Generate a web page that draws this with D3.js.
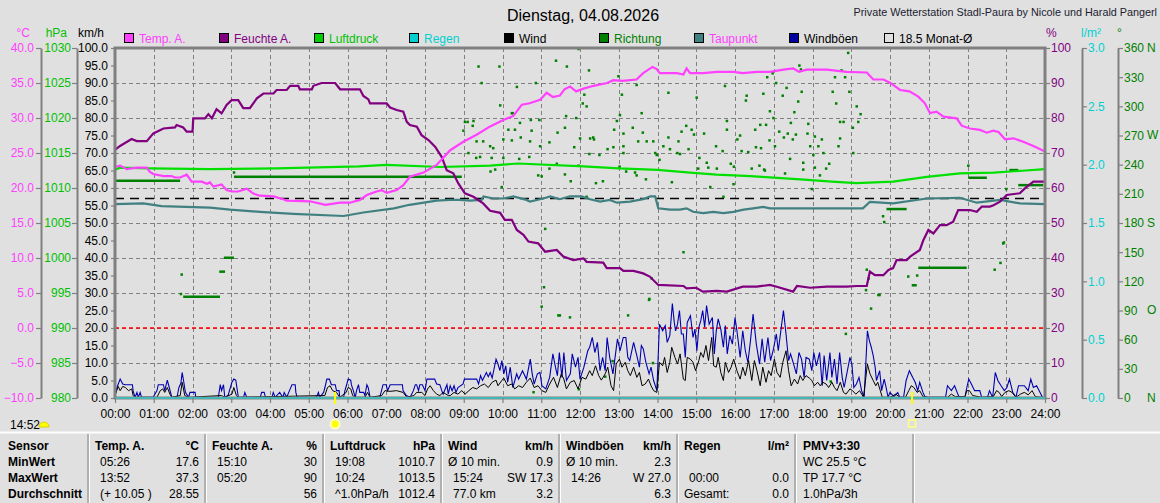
<!DOCTYPE html>
<html>
<head>
<meta charset="utf-8">
<script src="https://cdn.jsdelivr.net/npm/d3@7"></script>
<style>
  body { margin: 0; background: #e0e0e0; }
  svg { display: block; font-family: "Liberation Sans", Arial, sans-serif; font-size: 12px; }
</style>
</head>
<body>
<div id="chart"></div>
<script>
// ---- data ----
// [hour, value]
var tempPts = [[0,23.0],[0.13,23.2],[0.3,22.7],[0.56,22.9],[0.82,22.9],[0.9,22.3],[0.99,22.0],[1.25,21.7],[1.46,21.7],[1.55,21.5],[1.68,21.5],[1.85,21.9],[1.98,20.9],[2.24,20.9],[2.37,20.6],[2.45,20.8],[2.54,20.2],[2.75,20.5],[2.88,19.7],[3.01,19.5],[3.18,19.5],[3.4,19.9],[3.57,19.2],[3.74,18.9],[4.09,18.8],[4.34,18.4],[4.43,18.2],[5.03,18.1],[5.43,17.6],[5.81,17.9],[6.06,17.9],[6.32,18.3],[6.5,19.0],[6.75,19.5],[6.88,19.7],[7.01,19.3],[7.27,19.7],[7.44,20.4],[7.61,21.6],[7.96,22.2],[8.3,23.3],[8.65,25.4],[8.99,26.6],[9.33,27.6],[9.68,28.8],[10.02,29.7],[10.28,30.3],[10.5,31.9],[10.7,32.1],[10.97,32.6],[11.14,33.6],[11.3,33.0],[11.48,33.2],[11.6,34.1],[11.74,34.5],[11.9,33.8],[12.09,34.2],[12.35,34.6],[12.7,35.0],[12.86,35.4],[13.1,35.3],[13.46,35.5],[13.63,36.4],[13.87,37.3],[13.98,37.0],[14.06,36.4],[14.5,36.4],[14.67,36.2],[14.75,37.1],[14.84,36.4],[15.18,36.4],[15.53,36.6],[15.96,36.6],[16.2,36.4],[16.56,36.6],[16.9,36.6],[17.25,36.9],[17.5,37.1],[17.65,36.6],[17.85,36.9],[18.37,36.9],[18.88,36.6],[19.4,36.5],[19.57,35.5],[19.83,35.5],[20.0,35.05],[20.26,34.0],[20.5,33.8],[20.73,33.05],[20.9,32.1],[21.03,30.7],[21.2,30.9],[21.38,30.2],[21.72,29.95],[21.85,28.9],[22.06,28.5],[22.32,28.3],[22.5,27.9],[22.66,28.2],[22.8,28.0],[22.97,26.95],[23.18,27.1],[23.44,26.6],[23.7,26.0],[24,25.2]];

var humPts = [[0,70.9],[0.13,72],[0.43,74],[0.56,73.4],[0.82,73.4],[0.99,75.6],[1.25,77.0],[1.55,77.3],[1.59,78],[1.76,77.3],[1.85,76.1],[2.0,76.1],[2.02,79.9],[2.32,79.9],[2.41,81.1],[2.5,79.9],[2.62,82.5],[2.75,81.3],[2.88,83.7],[3.01,85.1],[3.18,85.1],[3.31,82.8],[3.48,82.8],[3.66,85.6],[3.83,87.0],[4.09,87.0],[4.17,88],[4.43,88],[4.52,89.2],[4.73,89.2],[4.77,88.2],[5.08,88.2],[5.12,89.2],[5.33,90],[5.68,90],[5.81,88.2],[6.32,88.2],[6.41,86.3],[6.54,85.3],[6.58,84.2],[7.01,84.2],[7.1,83.0],[7.27,82.3],[7.44,81.8],[7.53,78.9],[7.61,78.0],[7.79,77.5],[7.91,75.1],[8.09,73.7],[8.26,71.8],[8.43,68.9],[8.56,65.1],[8.73,64.2],[8.86,61.3],[9.03,58.5],[9.25,57.5],[9.5,55.6],[9.68,53.5],[9.94,52.9],[10.06,50.9],[10.24,50.9],[10.37,48],[10.54,46.6],[10.67,44.7],[10.92,44.2],[11.1,41.8],[11.4,42.3],[11.57,40.4],[11.83,39.4],[12.09,39.9],[12.17,38.9],[12.6,38.7],[12.69,37.1],[13.03,37.1],[13.12,36.3],[13.38,36.3],[13.63,35.6],[13.8,34.7],[14.02,32.3],[14.67,32],[14.75,31.3],[15.0,31.5],[15.17,30.4],[15.53,30.6],[15.79,30.4],[16.2,31.8],[16.56,31.8],[16.9,32.3],[17.08,31.8],[17.5,30.4],[17.6,32],[17.94,31.5],[18.37,31.8],[18.88,31.8],[19.14,32],[19.4,32],[19.48,36.1],[19.61,35.1],[19.83,35.1],[19.96,36.6],[20.08,37.1],[20.17,39.4],[20.43,39.4],[20.52,40.4],[20.77,42.3],[20.86,45.1],[20.99,48],[21.12,47.0],[21.29,49.4],[21.46,49.4],[21.63,50.4],[21.76,53.7],[22.06,53.7],[22.24,53.2],[22.37,54.7],[22.58,54.7],[22.67,55.1],[22.84,56.1],[23.01,58],[23.35,58.5],[23.48,59.9],[23.7,61.8],[24,61.8]];

var presPts = [[0,1012.6],[0.13,1012.9],[0.9,1012.8],[2.45,1012.7],[4.17,1012.8],[6.3,1013.1],[7.0,1013.3],[8.4,1013.0],[9.68,1013.2],[10.4,1013.5],[12.09,1013.1],[13.0,1012.8],[14.0,1012.6],[14.84,1012.2],[15.53,1011.9],[16.4,1011.7],[16.7,1011.6],[17.78,1011.2],[18.5,1010.9],[19.14,1010.7],[20.08,1010.9],[20.95,1011.6],[21.8,1012.1],[22.67,1012.2],[23.5,1012.5],[24,1012.7]];

var dewPts = [[0,17.7],[0.73,17.8],[1.2,17.4],[2.45,17.2],[2.97,16.9],[3.74,16.6],[4.6,16.3],[5.9,16.0],[6.41,16.5],[7.2,17.1],[7.6,17.6],[8.3,18.2],[8.645,18.3],[8.9,18.3],[9.16,18.2],[9.46,18.3],[9.51,18.8],[9.76,18.5],[10.02,18.5],[10.28,18.8],[10.62,18.3],[10.71,18.05],[11.05,18.5],[11.23,18.8],[11.48,18.4],[11.74,18.8],[12.04,18.8],[12.26,18.4],[12.52,18.05],[12.77,18.3],[12.95,17.9],[13.29,18.05],[13.63,18.4],[13.81,18.8],[13.94,18.8],[14.02,17.1],[14.32,16.9],[14.58,16.9],[14.75,17.1],[14.92,16.6],[15.18,16.4],[15.44,16.6],[15.7,16.4],[15.96,16.6],[16.22,16.9],[16.47,17.1],[16.73,17.3],[16.9,17.1],[18.37,17.1],[19.3,17.1],[19.48,18.0],[20.08,17.8],[20.95,18.5],[21.8,18.6],[22.24,17.9],[22.84,18.3],[23.35,17.8],[24,17.7]];

var rainPts = [[0,0],[24,0]];
var monthAvg = 18.5;

// [minute of day, km/h]
var gustMin = [[0,0.7],[3,3.0],[8,5.4],[12,4.0],[16,3.8],[27,3.8],[28,2.1],[31,0.2],[34,1.6],[36,0.2],[39,1.6],[41,0.2],[59,0.2],[65,2.1],[67,3.8],[75,3.8],[77,2.1],[81,5.1],[84,3.0],[88,0.2],[96,0.2],[99,3.0],[102,4.2],[104,7.3],[107,4.0],[109,1.6],[114,0.2],[116,1.6],[124,1.6],[125,0.2],[160,0.2],[163,3.8],[165,2.1],[168,3.8],[170,0.2],[175,0.7],[181,4.5],[184,5.4],[187,5.1],[191,0.2],[199,0.2],[201,1.6],[204,0.2],[225,0.2],[227,1.6],[231,1.6],[233,0.2],[243,0.2],[245,1.6],[248,0.2],[255,1.6],[260,0.2],[262,1.6],[266,0.2],[269,1.6],[274,3.8],[279,3.8],[280,1.6],[282,0.2],[312,0.2],[315,1.6],[317,0.2],[323,1.6],[325,3.0],[328,5.4],[332,5.4],[335,3.8],[341,3.8],[343,2.1],[347,2.1],[348,0.2],[354,0.2],[356,2.1],[359,4.0],[361,5.4],[365,5.1],[366,3.8],[369,2.1],[372,0.2],[374,2.1],[377,3.8],[379,1.6],[385,1.6],[387,0.7],[390,3.8],[392,3.0],[395,0.2],[410,0.2],[415,3.8],[420,3.8],[422,2.1],[426,3.8],[445,3.8],[446,2.1],[451,0.7],[457,0.2],[462,2.1],[465,3.8],[467,3.8],[470,2.1],[472,3.8],[476,3.8],[480,2.1],[483,5.4],[495,5.4],[498,4.0],[503,3.8],[506,2.1],[508,1.1],[514,3.8],[516,1.1],
[519,3.5],[522,2.1],[525,3.5],[528,1.6],[531,3.0],[539,4.0],[541,5.4],[560,5.4],[563,4.0],[566,6.4],[569,5.0],[575,7.3],[578,6.1],[581,7.3],[584,5.7],[590,11.1],[593,9.7],[596,7.8],[599,10.7],[602,6.9],[605,9.2],[608,4.5],[612,8.8],[616,3.0],[622,6.9],[625,5.4],[631,7.8],[637,5.4],[643,11.1],[646,6.9],[649,4.0],[654,6.9],[658,7.3],[661,3.5],[667,2.6],[673,5.9],[678,12.6],[682,8.8],[685,6.4],[688,13.0],[692,5.9],[695,13.0],[699,5.0],[705,6.9],[708,12.6],[713,8.8],[717,11.6],[720,5.4],[726,8.8],[732,13.5],[735,14.5],[739,17.3],[743,13.0],[747,15.9],[751,7.8],[755,11.6],[759,7.8],[762,17.3],[766,11.6],[771,6.9],[775,12.6],[778,16.9],[782,13.5],[787,17.3],[791,17.3],[794,11.6],[797,10.7],[803,15.9],[808,12.1],[812,8.8],[815,15.0],[818,14.0],[822,10.2],[827,6.9],[830,8.8],[834,5.0],[839,2.1],[843,21.1],[848,19.2],[852,20.7],[855,15.9],[859,17.8],[863,27.0],[866,21.6],[868,19.2],[871,21.1],[874,25.0],[877,18.3],[880,18.3],[883,11.6],[886,21.6],[891,23.5],[895,17.3],[898,19.7],[901,13.5],[904,20.2],[907,22.1],[910,25.0],[913,20.2],[916,26.4],[920,21.1],[925,23.0],[928,12.6],[931,19.2],[934,22.6],[938,19.7],[942,14.5],[945,20.7],[948,12.6],[952,17.8],[956,15.4],[960,23.0],[963,19.2],[968,11.6],[972,19.2],[976,13.5],[980,10.2],[984,16.4],[988,24.0],[993,15.4],[998,9.7],[1002,16.9],[1006,10.2],[1011,17.3],[1015,10.7],[1019,13.5],[1024,18.3],[1027,13.5],[1031,19.2],[1035,25.0],[1039,18.3],[1043,10.7],[1046,12.6],[1050,10.2],[1055,6.9],[1059,13.0],[1063,11.1],[1067,5.9],[1070,11.6],[1075,11.1],[1079,7.8],[1082,13.0],[1086,9.2],[1091,13.0],[1095,3.5],[1098,12.1],[1102,5.0],[1107,13.0],[1110,5.9],[1114,11.1],[1118,4.0],[1122,13.0],[1126,5.9],[1129,3.0],[1138,11.6],[1141,9.7],[1144,3.0],[1148,4.0],[1152,5.9],[1156,2.1],[1160,0.2],[1165,19.2],[1168,16.4],[1171,14.5],[1174,12.1],[1177,8.8],[1179,5.0],[1184,7.8],[1187,2.1],[1191,5.4],[1194,3.0],[1197,0.2],[1200,1.6],[1206,0.4],[1212,1.6],[1215,0.2],[1221,0.2],[1225,5.0],[1230,7.8],[1235,5.9],[1239,4.5],[1243,2.1],[1246,4.5],[1251,1.6],[1254,0.4],[1258,0.2],[1286,0.2],[1289,3.5],[1295,2.1],[1300,3.5],[1304,1.6],[1307,0.2],[1316,0.2],[1319,3.0],[1322,5.4],[1326,4.0],[1331,2.1],[1339,2.1],[1342,0.2],[1351,0.2],[1354,2.1],[1359,0.2],[1363,7.3],[1367,5.0],[1372,3.5],[1377,2.1],[1381,3.0],[1385,5.4],[1390,1.6],[1395,0.2],[1399,3.5],[1403,3.5],[1408,3.5],[1414,2.1],[1418,5.4],[1422,3.0],[1427,3.5],[1431,2.1],[1436,0.2],[1440,0]];

var windMin = [[0,0.7],[5,3.3],[8,2.1],[12,3.3],[16,3.0],[21,2.1],[26,2.6],[28,0.7],[31,0.2],[65,0.2],[70,2.1],[74,2.6],[77,1.6],[81,3.0],[85,1.1],[88,0.2],[101,0.7],[104,4.5],[108,0.7],[114,0.2],[165,0.7],[170,0.2],[181,1.1],[184,3.0],[188,0.7],[191,0.2],[325,0.7],[329,3.0],[333,3.5],[337,2.1],[343,1.6],[348,0.2],[358,1.6],[361,3.0],[365,2.6],[368,0.7],[372,0.2],[387,0.2],[391,1.6],[395,0.2],[413,0.7],[418,2.1],[426,1.9],[436,2.1],[446,1.6],[452,0.2],[463,0.7],[467,1.6],[475,1.6],[480,0.7],[484,2.6],[488,3.5],[493,2.1],[498,1.1],[503,0.7],[508,1.6],[516,0.7],
[519,0.7],[525,1.6],[531,1.1],[537,2.1],[542,1.1],[548,2.1],[554,3.0],[560,2.6],[566,3.5],[572,4.0],[578,3.0],[584,4.5],[590,5.1],[593,3.5],[599,5.0],[602,5.7],[608,3.5],[614,4.0],[619,2.6],[625,3.5],[631,3.0],[637,4.5],[643,5.7],[649,3.0],[655,3.5],[661,2.1],[667,1.6],[673,4.0],[679,5.9],[685,3.0],[691,6.9],[695,5.4],[699,2.6],[705,4.5],[711,5.0],[717,2.6],[723,5.9],[729,5.4],[735,7.8],[739,6.4],[744,9.2],[749,6.4],[753,5.1],[759,6.9],[763,8.8],[768,3.5],[772,2.1],[776,9.7],[781,11.1],[785,8.8],[790,10.2],[794,7.8],[798,6.4],[803,8.8],[808,5.9],[812,7.3],[816,3.5],[821,4.0],[826,5.4],[830,3.5],[834,2.1],[839,1.6],[843,10.2],[848,9.2],[851,11.6],[855,7.3],[859,10.2],[862,14.5],[867,11.6],[871,9.7],[875,12.6],[880,5.4],[883,5.0],[886,11.6],[891,11.1],[895,10.2],[899,7.8],[904,10.7],[907,13.0],[911,11.6],[915,15.0],[919,10.7],[924,17.3],[927,9.2],[931,8.8],[934,11.6],[938,7.3],[942,5.0],[945,10.2],[950,7.3],[954,8.8],[958,11.1],[963,7.8],[968,5.4],[972,8.8],[976,6.4],[981,10.7],[986,5.0],[990,10.7],[994,7.8],[999,3.5],[1003,8.8],[1008,4.5],[1012,7.8],[1016,6.4],[1021,11.1],[1025,7.3],[1030,5.9],[1034,10.2],[1039,13.5],[1043,7.8],[1047,3.5],[1052,5.4],[1057,4.0],[1061,6.4],[1065,5.0],[1070,6.4],[1075,5.7],[1079,5.0],[1083,3.5],[1088,4.5],[1092,3.5],[1096,4.5],[1101,4.0],[1105,3.0],[1110,4.5],[1114,3.0],[1118,2.1],[1123,4.5],[1128,1.6],[1132,1.1],[1138,2.6],[1142,2.1],[1147,1.1],[1153,2.1],[1159,0.2],[1165,9.7],[1169,6.9],[1174,5.0],[1178,3.5],[1181,4.5],[1185,2.1],[1188,0.2],[1200,0.2],[1209,1.1],[1215,0.2],[1224,0.2],[1229,2.1],[1233,3.5],[1237,3.0],[1242,1.6],[1246,2.1],[1251,0.4],[1256,0.2],[1289,0.2],[1295,1.1],[1301,0.4],[1316,0.4],[1319,2.1],[1323,2.1],[1328,0.7],[1342,0.2],[1360,0.4],[1365,2.1],[1369,1.6],[1373,0.4],[1378,1.6],[1384,2.1],[1389,1.6],[1395,0.2],[1402,1.1],[1408,1.6],[1414,0.9],[1420,2.1],[1425,0.4],[1434,0.2],[1440,0]];

// wind direction: [hour, degrees]; held direction while calm: [from, to, degrees]
var dirDots = [[1.70,107],[1.72,127],[3.07,232],
[9.38,341],[9.92,341],[11.38,347],[11.66,341],[12.23,337],[9.46,324],[10.37,320],[10.86,324],[12.99,331],[9.94,301],[10.26,293],[12.11,312],[12.07,303],[12.17,300],[13.08,312],[13.59,293],[13.46,322],[14.28,314],[15.01,309],[15.74,321],[16.30,311],[16.28,306],[16.90,295],
[9.03,284],[9.10,284],[9.25,285],[10.24,293],[10.45,283],[10.73,286],[10.95,286],[11.64,290],[11.90,288],[12.95,285],[13.03,291],
[8.99,275],[9.23,280],[10.15,276],[10.32,276],[10.75,275],[11.42,273],[11.61,278],[12.26,267],[12.34,268],[12.88,276],[13.12,272],[13.36,278],[13.62,273],[13.89,264],[14.28,268],[14.62,274],[14.74,280],[14.88,276],[14.94,271],[15.20,272],[15.79,285],[15.79,276],[16.06,266],[16.13,270],[16.52,276],[16.65,281],[16.80,281],
[9.33,264],[9.50,264],[9.68,259],[9.76,257],[10.02,266],[10.24,265],[10.47,268],[10.71,264],[10.97,259],[11.21,263],[11.85,258],[12.00,267],[12.36,266],[12.71,256],[12.86,258],[13.12,259],[13.50,264],[13.72,264],[13.94,252],[14.15,259],[14.32,256],[14.54,264],[14.80,256],[15.08,247],[15.27,242],[15.51,259],[15.68,254],[15.89,241],[16.17,254],[16.34,253],[16.54,258],[16.67,257],
[9.12,252],[9.32,247],[9.42,248],[9.72,247],[10.02,247],[10.43,246],[10.69,248],[10.92,229],[11.21,236],[11.40,241],[11.96,239],[12.24,251],[12.50,250],[13.02,238],[13.12,252],[13.46,229],[13.98,250],[14.05,245],[14.51,252],[14.58,251],[15.05,236],[15.31,237],[15.53,236],[15.97,238],[16.43,236],[16.63,239],[16.75,235],
[9.69,233],[9.81,235],[9.98,217],[11.01,228],[11.61,230],[11.76,223],[12.17,207],[12.41,221],[12.59,223],[13.19,233],[13.42,232],[13.70,225],[14.37,222],[15.36,217],[15.96,220],[15.70,207],
[11.10,174],[11.07,114],[14.67,150],[13.79,102],[13.85,123],[11.96,359],
[17.66,342],[17.70,338],[16.97,334],[17.06,324],[16.83,330],[18.92,355],[18.75,337],[16.73,313],[17.23,311],[17.33,319],[17.72,315],[18.52,315],[18.95,315],[18.58,330],[18.84,330],[17.63,305],[18.61,303],[19.14,300],[17.53,294],[16.99,288],[17.44,283],[17.89,282],[18.71,284],[18.80,284],[19.18,284],[19.24,292],[19.04,278],[16.89,265],[17.14,274],[17.26,268],[17.36,272],[17.49,266],[17.57,271],[17.87,272],[18.06,269],[18.24,266],[18.71,267],[17.94,259],[18.15,259],[18.67,259],[17.03,259],[18.02,250],[18.28,252],[19.05,252],[17.42,246],[17.76,242],[18.06,237],[18.43,241],[18.35,236],[16.77,234],[17.76,235],[17.29,231],[18.19,229],[17.98,215],
[11.01,94],[11.44,85],[11.48,85],[11.74,83],[13.24,85],[13.78,101],[18.86,66],[19.51,92],[19.73,106],[12.84,38],[13.88,36],[12.65,22],[11.97,9],[10.80,6],[18.47,17],
[19.85,181],[19.82,187],[20.47,125],[20.70,126],[22.70,132],[22.85,139],[22.92,159],[22.94,160],[23.00,215],[22.02,239],[19.40,132],[19.45,123],[19.70,106],[19.38,111]];

var dirHeld = [[0,1.68,223.5],[3.07,8.95,227.6],[1.76,2.71,104.2],[2.69,2.84,130],[2.81,3.07,144.3],[19.91,20.43,194.4],[20.73,21.98,134],[20.56,20.69,116],[22.02,22.5,226.6],[23.08,23.31,234.5],[23.31,23.95,219]];

var sunrise = 5.68, sunset = 20.57;
var nowText = "14:52";

var titleText = "Dienstag, 04.08.2026";
var stationText = "Private Wetterstation Stadl-Paura by Nicole und Harald Pangerl";

var legendNames = ["Temp. A.", "Feuchte A.", "Luftdruck", "Regen", "Wind", "Richtung", "Taupunkt", "Windböen", "18.5 Monat-Ø"];
var legendBox = ["#ff40ff", "#800080", "#00d000", "#00d0d0", "#000000", "#008000", "#408080", "#0000a0", "none"];
var legendText = ["#ff40ff", "#800080", "#00c000", "#00d0d0", "#000000", "#008000", "#ff40ff", "#000000", "#000000"];

var hourTicks = d3.range(0, 25);
var compassDeg = [360, 270, 180, 90, 0];
var compassLbl = ["N", "W", "S", "O", "N"];

var tblSensor = ["Sensor", "MinWert", "MaxWert", "Durchschnitt"];
var tblTitles = ["Temp. A.", "Feuchte A.", "Luftdruck", "Wind", "Windböen", "Regen"];
var tblUnits = ["°C", "%", "hPa", "km/h", "km/h", "l/m²"];
var tblLeft = [["05:26", "13:52", "(+ 10.05 )"], ["15:10", "05:20", ""], ["19:08", "10:24", "^1.0hPa/h"],
               ["Ø 10 min.", "15:24", "77.0 km"], ["Ø 10 min.", "14:26", ""], ["", "00:00", "Gesamt:"]];
var tblRight = [["17.6", "37.3", "28.55"], ["30", "90", "56"], ["1010.7", "1013.5", "1012.4"],
                ["0.9", "SW 17.3", "3.2"], ["2.3", "W 27.0", "6.3"], ["", "0.0", "0.0"]];
var pmvLines = ["PMV+3:30", "WC 25.5 °C", "TP 17.7 °C", "1.0hPa/3h"];

// ---- layout ----
var svgWidth = 1160, svgHeight = 503;
var plot = { left: 115, right: 1045, top: 48, bottom: 398 };
var FONT = '"Liberation Sans", Arial, sans-serif';

var svg = d3.select("#chart").append("svg")
  .attr("width", svgWidth)
  .attr("height", svgHeight);

svg.append("rect").attr("width", svgWidth).attr("height", svgHeight).attr("fill", "#e0e0e0");

// scales
var x = d3.scaleLinear().domain([0, 24]).range([plot.left, plot.right]);
var yKmh = d3.scaleLinear().domain([0, 100]).range([plot.bottom, plot.top]);
var yTemp = d3.scaleLinear().domain([-10, 40]).range([plot.bottom, plot.top]);
var yHpa = d3.scaleLinear().domain([980, 1030]).range([plot.bottom, plot.top]);
var yPct = d3.scaleLinear().domain([0, 100]).range([plot.bottom, plot.top]);
var yRain = d3.scaleLinear().domain([0, 3]).range([plot.bottom, plot.top]);
var yDeg = d3.scaleLinear().domain([0, 360]).range([plot.bottom, plot.top]);

// grid
var grid = svg.append("g")
  .attr("stroke", "#808080")
  .attr("stroke-dasharray", "4,3")
  .attr("shape-rendering", "crispEdges");
grid.selectAll(".gv").data(d3.range(1, 24)).enter().append("line")
  .attr("x1", d => Math.round(x(d)) + 0.5).attr("x2", d => Math.round(x(d)) + 0.5)
  .attr("y1", plot.top).attr("y2", plot.bottom);
grid.selectAll(".gh").data(d3.range(10, 100, 10)).enter().append("line")
  .attr("x1", plot.left).attr("x2", plot.right)
  .attr("y1", d => Math.round(yKmh(d)) + 0.5).attr("y2", d => Math.round(yKmh(d)) + 0.5);

// 0 °C line and month average
svg.append("line")
  .attr("x1", plot.left).attr("x2", plot.right)
  .attr("y1", yTemp(0)).attr("y2", yTemp(0))
  .attr("stroke", "#ff0000").attr("stroke-width", 1.5).attr("stroke-dasharray", "4,3");
svg.append("line")
  .attr("x1", plot.left).attr("x2", plot.right)
  .attr("y1", yTemp(monthAvg)).attr("y2", yTemp(monthAvg))
  .attr("stroke", "#000").attr("stroke-width", 1.3).attr("stroke-dasharray", "9,6");

// wind direction
var dirG = svg.append("g").attr("fill", "#008000");
dirG.selectAll("rect.dot").data(dirDots).enter().append("rect")
  .attr("x", d => x(d[0]) - 1.2).attr("y", d => yDeg(d[1]) - 1.2)
  .attr("width", 2.5).attr("height", 2.5);
dirG.selectAll("rect.held").data(dirHeld).enter().append("rect")
  .attr("x", d => x(d[0])).attr("y", d => yDeg(d[2]) - 1.2)
  .attr("width", d => x(d[1]) - x(d[0])).attr("height", 2.5);

// lines
function lineOf(ys, xs) {
  return d3.line().x(xs || (d => x(d[0]))).y(d => ys(d[1]));
}
var byMin = d => x(d[0] / 60);

svg.append("path").datum(gustMin).attr("d", lineOf(yKmh, byMin))
  .attr("fill", "none").attr("stroke", "#0000b0").attr("stroke-width", 1.1);
svg.append("path").datum(windMin).attr("d", lineOf(yKmh, byMin))
  .attr("fill", "none").attr("stroke", "#000").attr("stroke-width", 1);

svg.append("path").datum(presPts).attr("d", lineOf(yHpa))
  .attr("fill", "none").attr("stroke", "#00e000").attr("stroke-width", 2.2);
svg.append("path").datum(dewPts).attr("d", lineOf(yTemp))
  .attr("fill", "none").attr("stroke", "#408080").attr("stroke-width", 2.2);
svg.append("path").datum(humPts).attr("d", lineOf(yPct))
  .attr("fill", "none").attr("stroke", "#800080").attr("stroke-width", 2.2);
svg.append("path").datum(tempPts).attr("d", lineOf(yTemp))
  .attr("fill", "none").attr("stroke", "#ff40ff").attr("stroke-width", 2.2);

// plot frame
svg.append("rect")
  .attr("x", plot.left).attr("y", plot.top)
  .attr("width", plot.right - plot.left).attr("height", plot.bottom - plot.top)
  .attr("fill", "none").attr("stroke", "#808080").attr("stroke-width", 3);
svg.append("path").datum(rainPts).attr("d", lineOf(yRain))
  .attr("fill", "none").attr("stroke", "#30c8c8").attr("stroke-width", 1.5);

// axes
function styleAxis(g, color) {
  g.attr("font-family", FONT).attr("font-size", 12);
  g.select(".domain").attr("stroke", "#808080").attr("stroke-width", 2);
  g.selectAll(".tick line").attr("stroke", "#808080").attr("stroke-width", 1.2);
  g.selectAll(".tick text").attr("fill", color);
}

svg.append("g").attr("transform", "translate(41,0)")
  .call(d3.axisLeft(yTemp).tickValues(d3.range(-10, 41, 5)).tickFormat(d3.format(".1f"))
    .tickSize(5).tickSizeOuter(0).tickPadding(2))
  .call(g => styleAxis(g, "#ff40ff"));

svg.append("g").attr("transform", "translate(77,0)")
  .call(d3.axisLeft(yHpa).tickValues(d3.range(980, 1031, 5)).tickFormat(d3.format("d"))
    .tickSize(5).tickSizeOuter(0).tickPadding(1))
  .call(g => styleAxis(g, "#00c000"));

svg.append("g").attr("transform", "translate(" + plot.left + ",0)")
  .call(d3.axisLeft(yKmh).tickValues(d3.range(0, 101, 5)).tickFormat(d3.format(".1f"))
    .tickSize(4).tickSizeOuter(0).tickPadding(3))
  .call(g => { styleAxis(g, "#000"); g.select(".domain").remove(); });

svg.append("g").attr("transform", "translate(" + plot.right + ",0)")
  .call(d3.axisRight(yPct).tickValues(d3.range(0, 101, 10)).tickFormat(d3.format("d"))
    .tickSize(5).tickSizeOuter(0).tickPadding(1))
  .call(g => { styleAxis(g, "#800080"); g.select(".domain").remove(); });

svg.append("g").attr("transform", "translate(1082,0)")
  .call(d3.axisRight(yRain).tickValues(d3.range(0, 3.01, 0.5)).tickFormat(d3.format(".1f"))
    .tickSize(5).tickSizeOuter(0).tickPadding(1))
  .call(g => styleAxis(g, "#00d0d0"));

svg.append("g").attr("transform", "translate(1118,0)")
  .call(d3.axisRight(yDeg).tickValues(d3.range(0, 361, 30)).tickFormat(d3.format("d"))
    .tickSize(5).tickSizeOuter(0).tickPadding(1))
  .call(g => styleAxis(g, "#008000"));

svg.append("g").selectAll("text").data(compassDeg).enter().append("text")
  .attr("x", 1147).attr("y", d => yDeg(d)).attr("dy", "0.32em")
  .attr("fill", "#008000").attr("font-size", 12)
  .text((d, i) => compassLbl[i]);

svg.append("g").attr("transform", "translate(0," + plot.bottom + ")")
  .call(d3.axisBottom(x).tickValues(hourTicks).tickFormat(d => d3.format("02d")(d) + ":00")
    .tickSize(5).tickSizeOuter(0).tickPadding(6))
  .call(g => { styleAxis(g, "#000"); g.select(".domain").remove(); });

// unit labels
var units = [["°C", 30, "#ff40ff", "end"], ["hPa", 67, "#00c000", "end"], ["km/h", 104, "#000", "end"],
             ["%", 1046, "#800080", "start"], ["l/m²", 1081, "#00d0d0", "start"], ["°", 1117, "#008000", "start"]];
svg.append("g").selectAll("text").data(units).enter().append("text")
  .attr("x", d => d[1]).attr("y", 37).attr("fill", d => d[2]).attr("text-anchor", d => d[3])
  .text(d => d[0]);

// title
svg.append("text").attr("x", 583).attr("y", 21).attr("text-anchor", "middle")
  .attr("font-size", 16).attr("fill", "#000").text(titleText);
svg.append("text").attr("x", 1157).attr("y", 16).attr("text-anchor", "end")
  .attr("font-size", 10.8).attr("fill", "#202030").text(stationText);

// legend
var leg = svg.append("g").selectAll("g").data(legendNames).enter().append("g")
  .attr("transform", (d, i) => "translate(" + (124 + i * 95) + ",33)");
leg.append("rect").attr("width", 9).attr("height", 9).attr("x", 0.5).attr("y", 0.5)
  .attr("fill", (d, i) => legendBox[i]).attr("stroke", "#000").attr("stroke-width", 1);
leg.append("text").attr("x", 15).attr("y", 10).attr("fill", (d, i) => legendText[i]).text(d => d);

// sunrise / sunset markers
var sunG = svg.append("g");
[sunrise, sunset].forEach(function (t, i) {
  sunG.append("line").attr("x1", x(t)).attr("x2", x(t)).attr("y1", plot.bottom - 6).attr("y2", plot.bottom + 6)
    .attr("stroke", "#ffff00").attr("stroke-width", 2);
  if (i === 0) {
    sunG.append("circle").attr("cx", x(t)).attr("cy", 424).attr("r", 5.5).attr("fill", "#ffffc0");
    sunG.append("circle").attr("cx", x(t)).attr("cy", 424).attr("r", 3.5).attr("fill", "#ffff00");
  } else {
    sunG.append("rect").attr("x", x(t) - 3.5).attr("y", 420).attr("width", 7).attr("height", 7)
      .attr("fill", "none").attr("stroke", "#ffff80").attr("stroke-width", 1.5);
  }
});

// current time with moon
svg.append("text").attr("x", 10).attr("y", 429).attr("fill", "#000").text(nowText);
svg.append("path").attr("d", "M39,427 A5,5 0 0 1 49,427 Z").attr("fill", "#ffff00").attr("stroke", "#e0d000");

// ---- table ----
var tbl = svg.append("g");
tbl.append("line").attr("x1", 0).attr("x2", svgWidth).attr("y1", 432.5).attr("y2", 432.5)
  .attr("stroke", "#ffffff").attr("stroke-width", 2);
var seps = [88, 205, 323, 441, 559, 677, 795, 913];
seps.forEach(function (s) {
  tbl.append("line").attr("x1", s).attr("x2", s).attr("y1", 434).attr("y2", svgHeight)
    .attr("stroke", "#a0a0a0").attr("stroke-width", 1.5);
  tbl.append("line").attr("x1", s + 1.5).attr("x2", s + 1.5).attr("y1", 434).attr("y2", svgHeight)
    .attr("stroke", "#ffffff").attr("stroke-width", 1);
});
var rowY = [450, 466, 482, 498];

tbl.selectAll("text.sensor").data(tblSensor).enter().append("text")
  .attr("x", 8).attr("y", (d, i) => rowY[i]).attr("font-weight", "bold").text(d => d);

tblTitles.forEach(function (title, c) {
  var left = seps[c], right = seps[c + 1];
  tbl.append("text").attr("x", left + 7).attr("y", rowY[0]).attr("font-weight", "bold").text(title);
  tbl.append("text").attr("x", right - 6).attr("y", rowY[0]).attr("font-weight", "bold")
    .attr("text-anchor", "end").text(tblUnits[c]);
  tblLeft[c].forEach(function (v, r) {
    var indent = (v.indexOf("Ø") === 0 || v.indexOf("Gesamt") === 0) ? 7 : 12;
    tbl.append("text").attr("x", left + indent).attr("y", rowY[r + 1]).text(v);
  });
  tblRight[c].forEach(function (v, r) {
    tbl.append("text").attr("x", right - 6).attr("y", rowY[r + 1]).attr("text-anchor", "end").text(v);
  });
});

tbl.selectAll("text.pmv").data(pmvLines).enter().append("text")
  .attr("x", 803).attr("y", (d, i) => rowY[i])
  .attr("font-weight", (d, i) => i === 0 ? "bold" : "normal").text(d => d);
</script>
</body>
</html>
